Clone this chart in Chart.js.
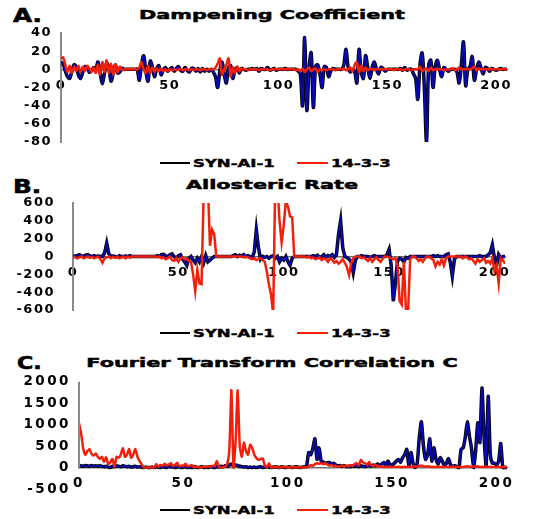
<!DOCTYPE html>
<html>
<head>
<meta charset="utf-8">
<script src="https://cdn.jsdelivr.net/npm/chart.js@4.4.0/dist/chart.umd.min.js"></script>
<style>
  body { margin: 0; background: #fff; width: 548px; height: 519px; position: relative; overflow: hidden;
         font-family: "DejaVu Sans", sans-serif; font-weight: bold; color: #000; }
  canvas { position: absolute; left: 0; }
  .title { position: absolute; white-space: nowrap; line-height: 1; font-size: 13px; -webkit-text-stroke: 0.5px #000;
           transform: translate(-50%, -50%) scaleX(1.6); }
  .letter { position: absolute; white-space: nowrap; line-height: 1; font-size: 19px; -webkit-text-stroke: 0.6px #000;
            transform-origin: 0 50%; transform: translateY(-50%) scaleX(1.3); }
  .legtext { position: absolute; white-space: nowrap; line-height: 1; font-size: 11px; -webkit-text-stroke: 0.4px #000;
             transform-origin: 0 50%; transform: translateY(-50%) scaleX(1.5); }
  .legline { position: absolute; height: 2px; }
</style>
</head>
<body>
<div class="letter" style="left:13px; top:15px;">A.</div>
<div class="title" style="left:272px; top:14px;">Dampening Coefficient</div>
<canvas id="chartA" width="548" height="128" style="top:24px;"></canvas>
<div id="legendA"></div>

<div class="letter" style="left:13px; top:186px;">B.</div>
<div class="title" style="left:272px; top:184px;">Allosteric Rate</div>
<canvas id="chartB" width="548" height="124" style="top:194px;"></canvas>
<div id="legendB"></div>

<div class="letter" style="left:17px; top:363px; font-size:17px;">C.</div>
<div class="title" style="left:272px; top:362px;">Fourier Transform Correlation C</div>
<canvas id="chartC" width="548" height="124" style="top:372px;"></canvas>
<div id="legendC"></div>

<script>
// residue index along the x axis (0..205)
const residues = Array.from({ length: 206 }, (_, i) => i);
const xTickValues = [0, 50, 100, 150, 200];

// A. Dampening Coefficient
const dampTicks = [-80, -60, -40, -20, 0, 20, 40];
const dampSyn = [
    8, 6, -2, -8, -10, -2, 5, 3, -6, -10,
    -3, 3, 2, -3, -2, 2, 1, 8, -4, -16,
    -4, 7, 2, -13, -4, 5, -4, -3, 1, 0,
    0, 0, 0, 0, 0, 0, -12, 5, 15, -2,
    -13, 9, 3, -8, 1, 4, -6, -1, 2, -2,
    0, 2, -2, 1, 3, -1, -2, 2, -1, -3,
    1, 1, -2, 1, -3, 1, -2, 0, -2, 0,
    -3, -8, -20, -2, 8, -5, -15, 2, 4, -10,
    0, 2, -4, 1, 0, -1, 0, 0, 1, 0,
    1, -2, 1, 0, 0, 2, -1, 0, 1, -1,
    0, 0, 0, 1, 0, 0, 0, 0, 0, -2,
    -5, -40, 35, -45, 0, 18, -42, 3, 5, -5,
    -20, 3, 2, -8, -2, 1, 0, 0, 0, 0,
    5, 22, 2, -3, 0, -3, -15, 22, -3, -10,
    15, 2, -10, 2, 8, 0, -5, 2, 1, -2,
    0, 0, 0, 0, 0, 0, 1, -1, 2, -1,
    0, 0, -5, -10, -33, 5, 18, -20, -80, 5,
    10, -20, 3, 10, 0, -8, 2, 0, -2, 0,
    0, 0, -3, -15, 5, 30, -18, 0, 3, 14,
    -12, 0, 8, 2, -5, 2, 1, -2, 1, 0,
    -1, 0, 1, 0, 0, 0
];
const damp1433 = [
    12, 13, 5, -3, 4, -4, 3, -2, 4, -3,
    3, -2, 4, 1, -3, 2, -4, 5, -6, 8,
    -3, 10, -4, 6, -6, 5, -3, 3, -1, 0,
    0, 0, 0, 0, 0, 0, 2, 8, 0, -4,
    4, -4, 2, -3, 1, -2, 1, -2, 0, -2,
    0, -1, 0, -1, 0, 0, -1, 0, 0, -1,
    0, -1, 0, 0, -1, 0, 0, -1, 0, 0,
    0, 2, 6, 12, -6, 0, 5, 12, -8, 2,
    -4, 3, -2, 1, 0, 0, -1, 0, 0, 0,
    0, -1, 0, 0, 0, 0, -1, 0, 0, 0,
    0, 0, 0, 0, 0, 0, 0, 0, -1, 0,
    -2, 1, -3, 0, 2, -2, 0, 1, -3, 0,
    -1, 0, -1, 0, 0, 0, -1, 0, 0, 0,
    1, -1, 0, 2, -2, 5, 8, -3, 4, -2,
    2, -1, 1, 0, -1, 0, 0, 0, 0, 0,
    0, 0, 0, -1, 0, 0, 0, -1, 0, 0,
    0, -1, 0, 0, 0, 3, -2, 0, 1, -2,
    2, -1, 0, 0, 0, 0, -1, 0, 0, 0,
    1, -1, 0, 2, 0, 0, 0, 0, 0, 1,
    3, -1, 1, 0, 0, 0, 0, 0, 0, 0,
    0, 0, 0, 0, 0, 0
];

// B. Allosteric Rate
const rateTicks = [-600, -400, -200, 0, 200, 400, 600];
const rateSyn = [
    0, 5, 10, 20, 5, 0, 15, 20, 5, 0,
    10, 0, 5, 0, 0, 40, 150, 30, 0, 5,
    0, -5, 10, 0, 0, 5, 0, 10, 0, 0,
    0, 0, 0, 0, 0, 0, 0, 0, 0, 0,
    10, 0, 20, 25, 5, 0, 20, 30, 0, -20,
    10, 20, -30, -60, -100, -20, 0, -40, -70, -20,
    -60, 0, -70, 10, -60, -40, -20, 0, 0, 0,
    0, 0, 0, 0, 0, 0, 10, 20, 0, 15,
    5, 20, 0, 10, 0, -10, 50, 300, 100, -30,
    0, -10, 0, -20, 0, 10, -20, 0, -60, -20,
    -40, 0, -60, -100, -20, 0, 0, 0, 0, 0,
    0, 0, 0, 0, 10, 0, 15, -10, 0, 20,
    -10, 10, 0, 20, -10, 20, 250, 400, 100, 0,
    -10, -30, -60, -180, -40, 0, 0, 10, 0, 0,
    0, -10, 0, 10, 0, 0, 0, 0, 0, 20,
    80, -100, -500, -300, -50, -20, -30, -60, -10, -20,
    0, 0, 0, 0, 0, 0, 0, 0, 0, 0,
    0, 10, 0, 10, 0, 0, 0, 20, 30, -60,
    -220, -30, 0, 0, 0, 0, 0, 0, 0, 0,
    0, 0, 0, 10, 0, 0, 0, 20, 40, 130,
    -20, -100, 20, -20, 0, 0
];
const rate1433 = [
    0, -10, -20, -10, 0, -20, -10, 0, -15, -5,
    -20, -10, -5, -30, -70, -20, -10, 0, -20, -5,
    -15, 0, -20, -10, 0, -20, 0, -15, 0, 0,
    0, 0, 0, 0, 0, 0, 0, 0, 0, 0,
    -10, 0, -20, -10, -30, -20, 0, -40, -50, -20,
    -60, -20, -10, -30, -20, -50, -60, -200, -390, -150,
    -300, -310, 700, 900, 800, 120, 300, 250, 0, 0,
    0, 0, 0, 0, 0, 0, 0, 0, 0, 0,
    0, -10, 0, -10, -20, -30, -20, -40, -30, -20,
    -40, -60, -170, -320, -430, -650, 900, 800, 400, 160,
    350, 620, 560, 450, 440, 0, 0, 0, 0, 0,
    0, -10, 0, -20, -10, -30, -20, -10, -40, -20,
    -30, -60, -20, -40, -70, -50, -80, -60, -30, -70,
    -120, -210, -80, -20, 0, 0, 0, -20, -10, -30,
    -50, -20, -60, -30, -10, -40, -60, -20, 0, 0,
    -10, -20, -30, -20, -100, -500, -540, -60, -610, -620,
    -30, 0, 0, -20, -50, -30, -60, -20, 0, 0,
    -20, -40, -110, -60, -90, -30, -100, -20, 0, 0,
    0, 0, 0, 0, 0, -20, 0, -10, -30, -20,
    -50, -80, -30, -60, -40, -20, -70, -50, -80, -20,
    -160, -100, -300, -20, -40, -80
];

// C. Fourier Transform Correlation C
const fourierTicks = [-500, 0, 500, 1000, 1500, 2000];
const fourierSyn = [
    30, 40, 30, 50, 40, 30, 45, 35, 40, 30,
    40, 30, 20, 30, 10, 0, 30, 20, 40, 30,
    20, 40, 30, 20, 30, 10, 20, 30, 10, 20,
    10, 0, 10, 0, 0, 10, 0, 20, 10, 0,
    20, 10, 0, 30, 10, 20, 0, 10, 20, 0,
    10, 20, 0, 10, 0, 20, 10, 0, 10, 20,
    0, 10, 0, 20, 10, 0, 20, 10, 30, 20,
    40, 30, 60, 80, 40, 60, 50, 30, 20, 10,
    20, 0, 10, 0, 10, 0, 10, 20, 0, 10,
    20, 10, 0, 10, 20, 10, 0, 20, 10, 0,
    10, 20, 0, 10, 20, 10, 0, 10, 20, 30,
    350, 300, 450, 670, 190, 460, 150, 130, 100, 110,
    120, 80, 100, 60, 40, 50, 30, 40, 20, 30,
    20, 40, 30, 50, 20, 40, 30, 20, 40, 50,
    30, 60, 40, 80, 40, 80, 120, 50, 150, 60,
    60, 100, 150, 190, 120, 230, 300, 425, 40, 350,
    100, 0, 100, 700, 1066, 500, 190, 300, 670, 150,
    460, 200, 77, 230, 150, 50, 100, 210, 60, 30,
    40, 20, 0, 425, 460, 700, 1066, 734, 448, 0,
    400, 1042, 580, 1853, 734, 40, 1660, 300, 100, 100,
    60, 150, 560, 0, 0, 0
];
const fourier1433 = [
    1030, 800, 450, 300, 380, 430, 320, 280, 330, 250,
    200, 250, 130, 240, 80, 120, 200, 20, 250, 230,
    300, 450, 250, 300, 430, 230, 300, 430, 250, 150,
    80, 0, 0, 0, 0, 0, 0, 80, 20, 60,
    40, 90, 50, 70, 100, 40, 60, 110, 30, 50,
    40, 90, 30, 40, 60, 10, 20, 10, 0, 10,
    20, 10, 30, 20, 40, 30, 150, 20, 0, 10,
    20, 80, 400, 1800, 0, 600, 1800, 500, 250, 580,
    380, 300, 530, 450, 300, 220, 180, 200, 210, 50,
    10, 100, 0, 10, 20, 10, 0, 10, 20, 10,
    0, 10, 0, 10, 0, 10, 0, 0, 10, 0,
    20, 60, 40, 80, 100, 90, 100, 80, 100, 70,
    50, 60, 30, 40, 20, 30, 40, 20, 50, 30,
    60, 40, 80, 100, 50, 178, 120, 100, 60, 130,
    50, 40, 60, 30, 20, 30, 10, 20, 10, 20,
    10, 20, 10, 20, 10, 10, 20, 10, 20, 10,
    20, 30, 20, 40, 50, 30, 20, 30, 20, 10,
    20, 10, 20, 10, 20, 10, 20, 10, 10, 20,
    10, 20, 10, 20, 10, 20, 30, 20, 10, 30,
    20, 30, 10, 20, 10, 20, 10, 20, 10, 20,
    10, 20, 10, 10, 20, 10
];

// stretch tick text a bit, the source picture is widened horizontally
const tickSpacing = {
    id: 'tickSpacing',
    beforeDraw(chart, args, opts) {
        chart.ctx.letterSpacing = opts.px + 'px';
    }
};

// panel C: the value axis line only runs from the top down to zero
const axisStub = {
    id: 'axisStub',
    afterDatasetsDraw(chart, args, opts) {
        if (!opts.on) return;
        const y = chart.scales.y;
        const ctx = chart.ctx;
        ctx.save();
        ctx.strokeStyle = '#8a8a8a';
        ctx.lineWidth = 2;
        ctx.beginPath();
        ctx.moveTo(chart.chartArea.left, y.getPixelForValue(y.max));
        ctx.lineTo(chart.chartArea.left, y.getPixelForValue(0));
        ctx.stroke();
        ctx.restore();
    }
};

function toPoints(values) {
    return values.map((v, i) => ({ x: residues[i], y: v }));
}

function lineSets(synValues, partnerValues, tension) {
    return [
        { label: '14-3-3', data: toPoints(partnerValues), borderColor: '#f0200a', borderWidth: 2.5, order: 0 },
        { label: 'SYN-AI-1 core', data: toPoints(synValues), borderColor: '#0a0ab4', borderWidth: 1.8, order: 1 },
        { label: 'SYN-AI-1', data: toPoints(synValues), borderColor: '#000000', borderWidth: 3.5, order: 2 }
    ].map(ds => Object.assign(ds, { pointRadius: 0, tension: tension, fill: false }));
}

function makePanel(id, p) {
    const tickFont = { family: 'DejaVu Sans', size: p.fontSize, weight: 'bold' };
    return new Chart(document.getElementById(id), {
        type: 'line',
        data: { datasets: lineSets(p.syn, p.partner, p.tension) },
        plugins: [tickSpacing, axisStub],
        options: {
            responsive: false,
            animation: false,
            events: [],
            layout: { padding: { top: p.padTop, bottom: p.padBottom, right: p.padRight, left: 0 } },
            plugins: {
                legend: { display: false },
                tooltip: { enabled: false },
                tickSpacing: { px: p.spacing },
                axisStub: { on: p.stub }
            },
            scales: {
                x: {
                    type: 'linear',
                    min: 0,
                    max: 205,
                    position: { y: 0 },
                    grid: { display: false, drawTicks: false },
                    border: { color: '#707070', width: 1.5 },
                    afterBuildTicks: axis => { axis.ticks = xTickValues.map(v => ({ value: v })); },
                    ticks: { color: '#000', font: tickFont, padding: 8, maxRotation: 0, autoSkip: false,
                             callback: v => String(v) }
                },
                y: {
                    type: 'linear',
                    min: p.yTicks[0],
                    max: p.yTicks[p.yTicks.length - 1],
                    grid: { display: false, drawTicks: false },
                    border: { display: !p.stub, color: '#8a8a8a', width: 2 },
                    afterBuildTicks: axis => { axis.ticks = p.yTicks.map(v => ({ value: v })); },
                    afterFit: scale => {
                        scale.width = p.axisX;
                        scale.paddingTop = 0;
                        scale.paddingBottom = 0;
                    },
                    ticks: { color: '#000', font: tickFont, padding: p.labelGap, autoSkip: false,
                             callback: v => String(v) }
                }
            }
        }
    });
}

function makeLegend(id, y) {
    const box = document.getElementById(id);
    box.innerHTML =
        '<div class="legline" style="left:160px; width:30px; top:' + (y - 1) + 'px; background:#000;"></div>' +
        '<div class="legtext" style="left:193px; top:' + y + 'px;">SYN-AI-1</div>' +
        '<div class="legline" style="left:297px; width:31px; top:' + (y - 1) + 'px; background:#f0200a;"></div>' +
        '<div class="legtext" style="left:331px; top:' + y + 'px;">14-3-3</div>';
}

makePanel('chartA', { syn: dampSyn, partner: damp1433, yTicks: dampTicks, tension: 0.35, stub: false,
    axisX: 61, padTop: 9, padBottom: 10, padRight: 41, labelGap: 9, spacing: 1.5, fontSize: 13 });
makePanel('chartB', { syn: rateSyn, partner: rate1433, yTicks: rateTicks, tension: 0, stub: false,
    axisX: 73, padTop: 9, padBottom: 8, padRight: 43, labelGap: 18, spacing: 1.5, fontSize: 13 });
makePanel('chartC', { syn: fourierSyn, partner: fourier1433, yTicks: fourierTicks, tension: 0.2, stub: true,
    axisX: 79, padTop: 9.7, padBottom: 7, padRight: 41, labelGap: 8, spacing: 2.5, fontSize: 13.5 });

makeLegend('legendA', 163);
makeLegend('legendB', 333);
makeLegend('legendC', 510);
</script>
</body>
</html>
